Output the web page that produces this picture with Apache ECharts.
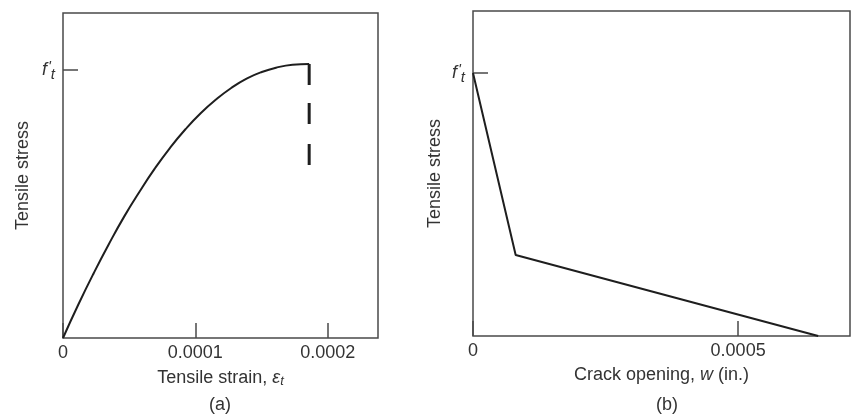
<!DOCTYPE html>
<html>
<head>
<meta charset="utf-8">
<script src="https://cdn.jsdelivr.net/npm/echarts@6/dist/echarts.min.js"></script>
<style>html,body{margin:0;padding:0;background:#fff}#c{width:851px;height:416px}</style>
</head>
<body>
<div id="c"></div>
<script>
// Panel (a): tensile stress vs tensile strain (stress relative to f't)
const strainA = [0, 0.0000116, 0.0000231, 0.0000347, 0.0000462, 0.0000578, 0.0000693, 0.0000809, 0.0000925, 0.000104, 0.0001156, 0.0001271, 0.0001387, 0.0001502, 0.0001618, 0.0001734, 0.000186];
const stressA = [0, 0.125, 0.241, 0.351, 0.453, 0.546, 0.632, 0.710, 0.779, 0.839, 0.890, 0.933, 0.968, 0.993, 1.010, 1.020, 1.023];
// dashed drop after peak
const dashX = 0.000186;
const dashTops = [1.023, 0.877, 0.724];
const dashBottoms = [0.944, 0.799, 0.646];
const xTicksA = [0, 0.0001, 0.0002];
const xMaxA = 0.000238;
const yMaxA = 1.213;

// Panel (b): tensile stress vs crack opening
const crackB = [0, 0.0000805, 0.000651];
const stressB = [1.0, 0.308, 0];
const xTicksB = [0, 0.0005];
const xMaxB = 0.000711;
const yMaxB = 1.236;

const yTickVals = [1];

const FONT = "'Liberation Sans', Arial, Helvetica, sans-serif";
const TXT = '#333';
const FRAME = '#4a4a4a';
const FS = 18;

const chart = echarts.init(document.getElementById('c'), null, {renderer: 'canvas'});

function fmtX(v) { return v === 0 ? '0' : v.toFixed(4); }

const ftRich = {
  f: {fontFamily: FONT, fontStyle: 'italic', fontSize: 18, color: TXT, lineHeight: 24, verticalAlign: 'middle'},
  p: {fontFamily: FONT, fontStyle: 'italic', fontSize: 15, color: TXT, lineHeight: 24, verticalAlign: 'top', padding: [1, 0, 0, 1]},
  t: {fontFamily: FONT, fontStyle: 'italic', fontSize: 15, color: TXT, lineHeight: 24, verticalAlign: 'bottom', padding: [12, 0, 0, 0]}
};

function xAxisCfg(idx, max, ticks, name) {
  return {
    type: 'value', gridIndex: idx, min: 0, max: max,
    name: name, nameLocation: 'middle', nameGap: 30,
    nameTextStyle: {fontFamily: FONT, fontSize: FS, color: TXT, rich: {
      e: {fontFamily: FONT, fontSize: FS, color: TXT, fontStyle: 'italic'},
      s: {fontFamily: FONT, fontSize: 13, color: TXT, fontStyle: 'italic', verticalAlign: 'bottom', padding: [7, 0, 0, 0]},
      w: {fontFamily: FONT, fontSize: FS, color: TXT, fontStyle: 'italic'}
    }},
    axisLine: {show: false},
    axisTick: {show: true, inside: true, length: 15, customValues: ticks, lineStyle: {color: FRAME, width: 1.5}},
    axisLabel: {show: true, margin: 6, customValues: ticks, formatter: fmtX, fontFamily: FONT, fontSize: FS, color: TXT},
    splitLine: {show: false}
  };
}

function yAxisCfg(idx, max, gap) {
  return {
    type: 'value', gridIndex: idx, min: 0, max: max,
    name: 'Tensile stress', nameLocation: 'middle', nameGap: gap,
    nameTextStyle: {fontFamily: FONT, fontSize: FS, color: TXT},
    axisLine: {show: false},
    axisTick: {show: true, inside: true, length: 15, customValues: yTickVals, lineStyle: {color: FRAME, width: 1.5}},
    axisLabel: {show: true, margin: 8, customValues: yTickVals, formatter: function () { return "{f|f}{p|'}{t|t}"; }, rich: ftRich},
    splitLine: {show: false}
  };
}

const dashData = [];
dashTops.forEach(function (t, i) {
  if (i > 0) dashData.push([dashX, null]);
  dashData.push([dashX, t]);
  dashData.push([dashX, dashBottoms[i]]);
});

chart.setOption({
  animation: false,
  backgroundColor: '#fff',
  grid: [
    {left: 63, top: 13, width: 315, height: 325, show: true, borderColor: FRAME, borderWidth: 1.5, backgroundColor: 'transparent'},
    {left: 473, top: 11, width: 377, height: 325, show: true, borderColor: FRAME, borderWidth: 1.5, backgroundColor: 'transparent'}
  ],
  xAxis: [
    xAxisCfg(0, xMaxA, xTicksA, 'Tensile strain, {e|\u03b5}{s|t}'),
    xAxisCfg(1, xMaxB, xTicksB, 'Crack opening, {w|w} (in.)')
  ],
  yAxis: [yAxisCfg(0, yMaxA, 31), yAxisCfg(1, yMaxB, 29)],
  series: [
    {type: 'line', xAxisIndex: 0, yAxisIndex: 0, smooth: 0.5, showSymbol: false, symbol: 'none',
     lineStyle: {color: '#1e1e1e', width: 2},
     data: strainA.map(function (x, i) { return [x, stressA[i]]; })},
    {type: 'line', xAxisIndex: 0, yAxisIndex: 0, showSymbol: false, symbol: 'none', connectNulls: false,
     lineStyle: {color: '#1e1e1e', width: 3, cap: 'butt'},
     data: dashData},
    {type: 'line', xAxisIndex: 1, yAxisIndex: 1, showSymbol: false, symbol: 'none',
     lineStyle: {color: '#1e1e1e', width: 2},
     data: crackB.map(function (x, i) { return [x, stressB[i]]; })}
  ],
  graphic: [
    {type: 'text', x: 220, y: 405, style: {text: '(a)', font: FS + 'px ' + FONT, fill: TXT, align: 'center', verticalAlign: 'middle'}},
    {type: 'text', x: 667, y: 405, style: {text: '(b)', font: FS + 'px ' + FONT, fill: TXT, align: 'center', verticalAlign: 'middle'}}
  ]
});
</script>
</body>
</html>
